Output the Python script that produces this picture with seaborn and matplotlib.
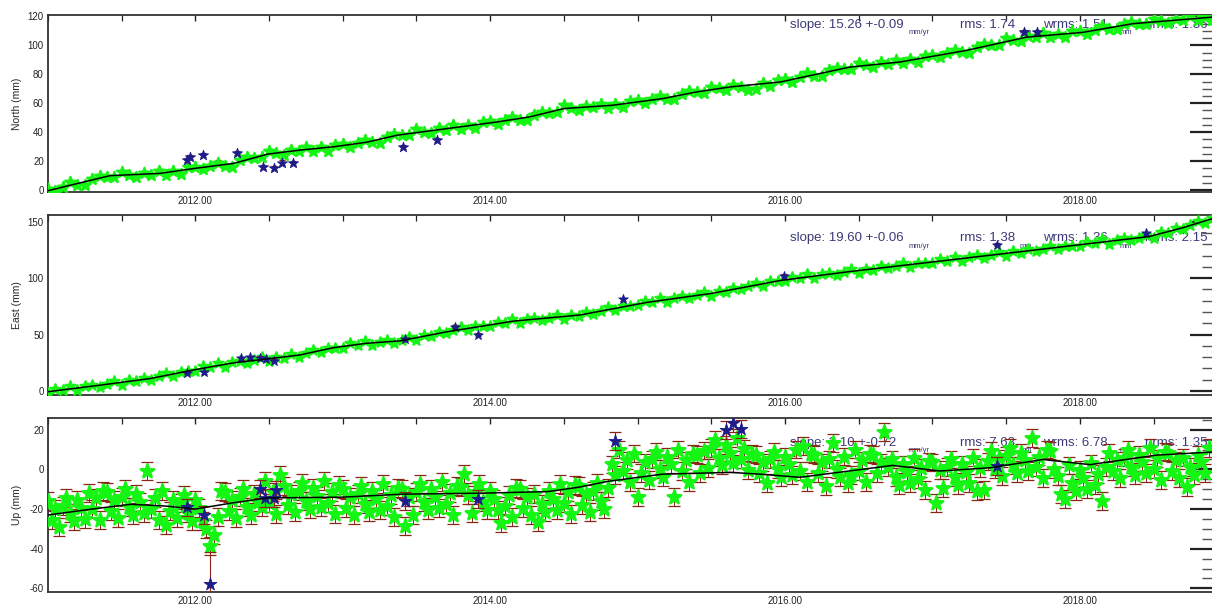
import matplotlib
matplotlib.use('Agg')
import matplotlib.pyplot as plt
import seaborn as sns
from matplotlib.ticker import MultipleLocator, FormatStrFormatter

# epochs (decimal year) of the north / east solutions
epochs = [
    2011.00, 2011.05, 2011.10, 2011.15, 2011.20, 2011.25, 2011.30, 2011.35, 2011.40, 2011.45,
    2011.50, 2011.55, 2011.60, 2011.65, 2011.70, 2011.75, 2011.80, 2011.85, 2011.90, 2011.95,
    2012.00, 2012.05, 2012.10, 2012.15, 2012.20, 2012.25, 2012.30, 2012.35, 2012.40, 2012.45,
    2012.50, 2012.55, 2012.60, 2012.65, 2012.70, 2012.75, 2012.80, 2012.85, 2012.90, 2012.95,
    2013.00, 2013.05, 2013.10, 2013.15, 2013.20, 2013.25, 2013.30, 2013.35, 2013.40, 2013.45,
    2013.50, 2013.55, 2013.60, 2013.65, 2013.70, 2013.75, 2013.80, 2013.85, 2013.90, 2013.95,
    2014.00, 2014.05, 2014.10, 2014.15, 2014.20, 2014.25, 2014.30, 2014.35, 2014.40, 2014.45,
    2014.50, 2014.55, 2014.60, 2014.65, 2014.70, 2014.75, 2014.80, 2014.85, 2014.90, 2014.95,
    2015.00, 2015.05, 2015.10, 2015.15, 2015.20, 2015.25, 2015.30, 2015.35, 2015.40, 2015.45,
    2015.50, 2015.55, 2015.60, 2015.65, 2015.70, 2015.75, 2015.80, 2015.85, 2015.90, 2015.95,
    2016.00, 2016.05, 2016.10, 2016.15, 2016.20, 2016.25, 2016.30, 2016.35, 2016.40, 2016.45,
    2016.50, 2016.55, 2016.60, 2016.65, 2016.70, 2016.75, 2016.80, 2016.85, 2016.90, 2016.95,
    2017.00, 2017.05, 2017.10, 2017.15, 2017.20, 2017.25, 2017.30, 2017.35, 2017.40, 2017.45,
    2017.50, 2017.55, 2017.60, 2017.65, 2017.70, 2017.75, 2017.80, 2017.85, 2017.90, 2017.95,
    2018.00, 2018.05, 2018.10, 2018.15, 2018.20, 2018.25, 2018.30, 2018.35, 2018.40, 2018.45,
    2018.50, 2018.55, 2018.60, 2018.65, 2018.70, 2018.75, 2018.80, 2018.85, 2018.90,
]

north = [
    0.7, -0.8, 2.4, 5.3, 3.7, 3.6, 7.8, 9.8, 9.1, 8.8,
    12.5, 10.6, 9.0, 12.0, 10.6, 13.2, 10.7, 13.4, 11.2, 15.6,
    16.2, 14.2, 16.7, 19.0, 16.8, 16.2, 20.4, 22.5, 22.0, 22.5,
    27.1, 25.7, 24.4, 27.8, 26.9, 29.7, 27.1, 29.6, 27.2, 31.3,
    31.9, 29.9, 32.5, 34.8, 32.9, 32.8, 36.9, 38.8, 38.0, 37.8,
    41.9, 40.4, 39.2, 42.7, 41.8, 44.7, 42.3, 45.0, 42.8, 47.0,
    47.6, 45.6, 48.3, 50.7, 48.7, 48.2, 52.2, 54.1, 53.5, 53.8,
    58.5, 56.7, 55.2, 58.3, 57.1, 59.7, 57.0, 59.5, 57.2, 61.5,
    62.1, 60.1, 62.7, 64.9, 63.0, 62.7, 66.7, 68.4, 67.5, 67.4,
    71.5, 70.2, 69.0, 72.5, 71.4, 69.0, 69.8, 74.1, 71.7, 75.8,
    76.6, 75.0, 78.0, 80.7, 79.0, 78.7, 82.8, 84.6, 83.8, 83.9,
    87.8, 86.2, 84.8, 88.2, 87.1, 89.9, 87.5, 90.3, 88.3, 92.8,
    93.6, 91.8, 94.6, 97.1, 95.2, 94.9, 99.0, 100.8, 100.0, 100.2,
    104.8, 103.8, 103.0, 106.8, 105.6, 108.4, 105.7, 108.1, 105.7, 109.7,
    110.0, 108.0, 110.8, 113.3, 111.4, 111.0, 114.9, 116.4, 115.0, 114.6,
    118.4, 116.7, 115.3, 118.5, 117.4, 120.1, 117.4, 119.8, 117.3,
]

east = [
    -1.6, 2.0, 0.6, 4.3, 0.7, 4.1, 5.7, 3.5, 6.2, 8.9,
    5.3, 9.6, 8.6, 11.9, 10.1, 12.9, 16.0, 13.3, 17.2, 17.5,
    18.0, 22.0, 20.9, 24.9, 21.6, 25.4, 27.0, 24.8, 27.3, 29.9,
    26.3, 30.5, 29.4, 32.6, 30.6, 33.5, 36.7, 34.2, 38.2, 38.5,
    38.5, 42.2, 40.9, 44.5, 40.7, 43.8, 45.0, 42.5, 45.0, 48.0,
    44.9, 49.5, 49.0, 52.7, 51.1, 53.8, 56.7, 53.7, 57.4, 57.4,
    57.7, 61.5, 60.3, 64.2, 60.5, 63.7, 65.1, 62.7, 65.1, 67.5,
    63.7, 67.7, 66.5, 70.0, 68.4, 71.3, 74.3, 71.5, 75.4, 75.6,
    76.0, 80.1, 78.8, 82.5, 79.0, 82.6, 84.3, 82.2, 84.9, 87.6,
    84.1, 88.7, 88.1, 91.7, 90.1, 93.0, 96.0, 93.2, 97.1, 97.3,
    97.5, 101.1, 99.8, 103.4, 99.9, 103.3, 104.9, 102.8, 105.4, 108.1,
    104.4, 108.6, 107.5, 110.7, 108.7, 111.0, 113.6, 110.3, 113.7, 113.4,
    113.4, 116.9, 115.5, 119.1, 115.4, 118.8, 120.4, 118.1, 120.7, 123.2,
    119.6, 123.8, 122.7, 125.9, 123.9, 126.2, 128.8, 125.6, 128.9, 128.7,
    128.7, 132.2, 130.8, 134.4, 130.7, 134.1, 135.7, 133.5, 136.0, 138.6,
    135.4, 140.6, 140.5, 144.6, 143.6, 147.2, 151.0, 149.0, 153.6,
]

# vertical is shown at a denser sampling
up_epochs = [
    2011.000, 2011.025, 2011.050, 2011.075, 2011.100, 2011.125, 2011.150, 2011.175,
    2011.200, 2011.225, 2011.250, 2011.275, 2011.300, 2011.325, 2011.350, 2011.375,
    2011.400, 2011.425, 2011.450, 2011.475, 2011.500, 2011.525, 2011.550, 2011.575,
    2011.600, 2011.625, 2011.650, 2011.675, 2011.700, 2011.725, 2011.750, 2011.775,
    2011.800, 2011.825, 2011.850, 2011.875, 2011.900, 2011.925, 2011.950, 2011.975,
    2012.000, 2012.025, 2012.050, 2012.075, 2012.100, 2012.125, 2012.150, 2012.175,
    2012.200, 2012.225, 2012.250, 2012.275, 2012.300, 2012.325, 2012.350, 2012.375,
    2012.400, 2012.425, 2012.450, 2012.475, 2012.500, 2012.525, 2012.550, 2012.575,
    2012.600, 2012.625, 2012.650, 2012.675, 2012.700, 2012.725, 2012.750, 2012.775,
    2012.800, 2012.825, 2012.850, 2012.875, 2012.900, 2012.925, 2012.950, 2012.975,
    2013.000, 2013.025, 2013.050, 2013.075, 2013.100, 2013.125, 2013.150, 2013.175,
    2013.200, 2013.225, 2013.250, 2013.275, 2013.300, 2013.325, 2013.350, 2013.375,
    2013.400, 2013.425, 2013.450, 2013.475, 2013.500, 2013.525, 2013.550, 2013.575,
    2013.600, 2013.625, 2013.650, 2013.675, 2013.700, 2013.725, 2013.750, 2013.775,
    2013.800, 2013.825, 2013.850, 2013.875, 2013.900, 2013.925, 2013.950, 2013.975,
    2014.000, 2014.025, 2014.050, 2014.075, 2014.100, 2014.125, 2014.150, 2014.175,
    2014.200, 2014.225, 2014.250, 2014.275, 2014.300, 2014.325, 2014.350, 2014.375,
    2014.400, 2014.425, 2014.450, 2014.475, 2014.500, 2014.525, 2014.550, 2014.575,
    2014.600, 2014.625, 2014.650, 2014.675, 2014.700, 2014.725, 2014.750, 2014.775,
    2014.800, 2014.825, 2014.850, 2014.875, 2014.900, 2014.925, 2014.950, 2014.975,
    2015.000, 2015.025, 2015.050, 2015.075, 2015.100, 2015.125, 2015.150, 2015.175,
    2015.200, 2015.225, 2015.250, 2015.275, 2015.300, 2015.325, 2015.350, 2015.375,
    2015.400, 2015.425, 2015.450, 2015.475, 2015.500, 2015.525, 2015.550, 2015.575,
    2015.600, 2015.625, 2015.650, 2015.675, 2015.700, 2015.725, 2015.750, 2015.775,
    2015.800, 2015.825, 2015.850, 2015.875, 2015.900, 2015.925, 2015.950, 2015.975,
    2016.000, 2016.025, 2016.050, 2016.075, 2016.100, 2016.125, 2016.150, 2016.175,
    2016.200, 2016.225, 2016.250, 2016.275, 2016.300, 2016.325, 2016.350, 2016.375,
    2016.400, 2016.425, 2016.450, 2016.475, 2016.500, 2016.525, 2016.550, 2016.575,
    2016.600, 2016.625, 2016.650, 2016.675, 2016.700, 2016.725, 2016.750, 2016.775,
    2016.800, 2016.825, 2016.850, 2016.875, 2016.900, 2016.925, 2016.950, 2016.975,
    2017.000, 2017.025, 2017.050, 2017.075, 2017.100, 2017.125, 2017.150, 2017.175,
    2017.200, 2017.225, 2017.250, 2017.275, 2017.300, 2017.325, 2017.350, 2017.375,
    2017.400, 2017.425, 2017.450, 2017.475, 2017.500, 2017.525, 2017.550, 2017.575,
    2017.600, 2017.625, 2017.650, 2017.675, 2017.700, 2017.725, 2017.750, 2017.775,
    2017.800, 2017.825, 2017.850, 2017.875, 2017.900, 2017.925, 2017.950, 2017.975,
    2018.000, 2018.025, 2018.050, 2018.075, 2018.100, 2018.125, 2018.150, 2018.175,
    2018.200, 2018.225, 2018.250, 2018.275, 2018.300, 2018.325, 2018.350, 2018.375,
    2018.400, 2018.425, 2018.450, 2018.475, 2018.500, 2018.525, 2018.550, 2018.575,
    2018.600, 2018.625, 2018.650, 2018.675, 2018.700, 2018.725, 2018.750, 2018.775,
    2018.800, 2018.825, 2018.850, 2018.875,
]

up = [
    -16.0, -25.5, -20.0, -29.0, -18.5, -14.5, -22.0, -26.0,
    -15.5, -19.5, -25.0, -12.0, -20.0, -14.5, -25.5, -11.0,
    -11.5, -21.0, -15.5, -24.5, -14.0, -10.0, -19.0, -23.0,
    -12.5, -16.5, -22.0, -1.0, -20.0, -14.5, -25.5, -11.0,
    -28.0, -21.0, -15.5, -24.5, -17.0, -13.0, -22.0, -26.0,
    -15.5, -19.5, -26.0, -30.0, -38.5, -33.0, -24.0, -11.0,
    -11.5, -21.0, -15.5, -24.5, -14.0, -10.0, -19.0, -23.0,
    -12.5, -16.5, -19.0, -6.0, -17.0, -11.5, -22.5, -3.0,
    -8.5, -18.0, -12.5, -21.5, -11.0, -7.0, -16.0, -20.0,
    -9.5, -13.5, -19.0, -6.0, -17.0, -11.5, -22.5, -8.0,
    -10.0, -19.5, -14.0, -23.0, -12.5, -8.5, -17.5, -21.5,
    -11.0, -15.0, -20.5, -7.5, -18.5, -13.0, -24.0, -9.5,
    -10.0, -28.5, -14.0, -23.0, -11.5, -7.5, -16.5, -20.5,
    -10.0, -14.0, -19.5, -6.5, -17.5, -12.0, -23.0, -8.5,
    -9.0, -2.5, -13.0, -22.0, -11.5, -7.5, -16.5, -20.5,
    -11.0, -15.0, -20.5, -27.0, -18.5, -13.0, -24.0, -9.5,
    -10.0, -19.5, -14.0, -23.0, -12.5, -26.5, -17.5, -21.5,
    -11.0, -15.0, -20.5, -7.5, -17.0, -11.5, -22.5, -8.0,
    -8.5, -18.0, -12.5, -21.5, -11.0, -7.0, -16.0, -20.0,
    -9.5, 2.5, -3.0, 10.0, -1.0, 4.5, -6.5, 8.0,
    -14.0, -2.0, 3.5, -5.5, 5.0, 9.0, 0.0, -4.0,
    6.5, 2.5, -14.0, 10.0, -1.0, 4.5, -6.5, 8.0,
    7.5, -2.0, 9.5, 0.5, 11.0, 15.0, 6.0, 2.0,
    12.5, 8.5, 3.0, 16.0, 5.0, 10.5, -0.5, 8.0,
    7.5, -2.0, 3.5, -7.0, 5.0, 9.0, 0.0, -4.0,
    6.5, 2.5, -3.0, 10.0, -1.0, 12.0, -6.5, 8.0,
    7.5, -2.0, 3.5, -8.5, 5.0, 13.5, 0.0, -4.0,
    6.5, -7.0, -3.0, 10.0, -1.0, 4.5, -6.5, 8.0,
    7.5, -2.0, 3.5, 19.0, 1.0, 5.0, -4.0, -8.0,
    2.5, -1.5, -7.0, 6.0, -5.0, 0.5, -10.5, 4.0,
    3.5, -17.0, -0.5, -9.5, 1.0, 5.0, -4.0, -8.0,
    2.5, -1.5, -7.0, 6.0, -11.0, 0.5, -10.5, 4.0,
    9.5, 0.0, 5.5, -3.5, 7.0, 11.0, 2.0, -2.0,
    8.5, 4.5, -1.0, 16.0, 1.0, 6.5, -4.5, 10.0,
    9.5, 0.0, -3.5, -12.5, -15.0, 2.0, -7.0, -11.0,
    -0.5, -4.5, -10.0, 3.0, -8.0, -2.5, -16.0, 1.0,
    8.5, -1.0, 4.5, -4.5, 6.0, 10.0, 1.0, -3.0,
    7.5, 3.5, -2.0, 11.0, 0.0, 5.5, -5.5, 9.0,
    8.5, -1.0, 4.5, -4.5, 6.0, -9.0, 1.0, -3.0,
    7.5, 3.5, -2.0, 11.0,
]

# formal errors (mm)
north_sig = 1.4
east_sig = 1.3
up_sig = 4.5

# rejected points (blue)
north_out_t = [2011.94, 2011.96, 2012.05, 2012.28, 2012.46, 2012.53, 2012.59, 2012.66,
               2013.41, 2013.64, 2017.62, 2017.71]
north_out = [20.5, 22.5, 24.0, 25.5, 16.0, 15.2, 19.0, 18.7, 30.0, 34.5, 109.0, 109.5]
east_out_t = [2011.94, 2012.06, 2012.31, 2012.37, 2012.44, 2012.48, 2012.53, 2013.42,
              2013.76, 2013.92, 2014.90, 2015.99, 2017.44, 2018.45]
east_out = [16.3, 16.5, 29.0, 30.0, 29.5, 28.0, 27.0, 45.8, 57.0, 49.7, 81.4, 102.0, 129.5, 140.0]
up_out_t = [2011.94, 2012.06, 2012.10, 2012.44, 2012.47, 2012.53, 2012.55, 2013.42, 2013.92,
            2014.85, 2015.60, 2015.65, 2015.70, 2017.44]
up_out = [-19.2, -23.0, -57.7, -9.8, -14.6, -14.6, -10.5, -16.0, -15.0, 14.4, 20.0, 23.5, 20.5, 1.8]
up_out_sig = [4.5, 4.5, 16.0, 4.5, 4.5, 4.5, 4.5, 4.5, 4.5, 4.5, 4.5, 4.5, 4.5, 4.5]

# fitted model curves
north_fit_t = [2011.00, 2011.20, 2011.42, 2011.76, 2012.00, 2012.26, 2012.49, 2012.71, 2012.94,
               2013.16, 2013.37, 2013.71, 2014.05, 2014.27, 2014.50, 2014.83, 2015.17, 2015.40,
               2015.63, 2015.97, 2016.44, 2016.78, 2017.23, 2017.64, 2018.02, 2018.36, 2018.91]
north_fit = [-0.5, 4.5, 9.9, 11.5, 15.0, 18.4, 24.8, 27.6, 29.9, 33.0, 37.9, 42.5, 47.1, 50.6,
             56.3, 58.6, 63.2, 67.8, 71.3, 74.7, 85.0, 88.5, 96.5, 105.7, 109.0, 115.0, 119.6]
east_fit_t = [2011.00, 2011.36, 2011.69, 2012.00, 2012.26, 2012.49, 2012.71, 2012.94, 2013.16,
              2013.39, 2013.71, 2014.16, 2014.61, 2015.06, 2015.51, 2015.97, 2016.44, 2017.12,
              2017.80, 2018.47, 2018.70, 2018.91]
east_fit = [-0.6, 5.3, 11.0, 19.0, 25.0, 28.5, 32.0, 38.5, 42.3, 44.5, 52.6, 62.0, 67.4, 78.5,
            86.7, 98.0, 105.9, 116.2, 126.6, 136.9, 144.8, 153.2]
up_fit_t = [2011.00, 2011.30, 2011.56, 2011.80, 2012.00, 2012.26, 2012.49, 2013.00, 2013.40,
            2013.93, 2014.39, 2014.60, 2014.80, 2015.17, 2015.63, 2015.85, 2016.10, 2016.73,
            2017.05, 2017.39, 2017.75, 2018.07, 2018.52, 2018.91]
up_fit = [-23.0, -20.0, -17.6, -18.5, -20.0, -16.8, -14.4, -14.0, -12.5, -12.0, -11.2, -9.0,
          -6.0, -2.4, -1.5, -2.5, -4.0, 2.0, -0.8, 0.8, 5.0, 2.4, 7.2, 8.8]

north_stats = ["slope: 15.26 +-0.09", "rms: 1.74", "wrms: 1.51", "nrms: 1.86"]
east_stats = ["slope: 19.60 +-0.06", "rms: 1.38", "wrms: 1.36", "nrms: 2.15"]
up_stats = ["slope: 3.10 +-0.72", "rms: 7.63", "wrms: 6.78", "nrms: 1.35"]
stat_units = ["mm/yr", "mm", "mm", ""]

sns.set_style('white')
plt.rcParams['font.family'] = ['Liberation Sans', 'DejaVu Sans']
plt.rcParams['axes.unicode_minus'] = False

GREEN = '#14f514'
BLUE = '#1c1c8a'
BAR = '#8a2616'
TXT = '#3a3a78'

fig = plt.figure(figsize=(12.12, 6.10), dpi=100)

panels = [
    dict(box=[0.0396, 0.6852, 0.962, 0.2902], t=epochs, v=north, sig=north_sig,
         ot=north_out_t, ov=north_out, osig=[north_sig] * len(north_out),
         ft=north_fit_t, fv=north_fit, label='North (mm)', ylim=(-1.4, 121),
         major=20, minor=5, stats=north_stats, ty=0.944, ms=65, ew=1.7, cap=2.0),
    dict(box=[0.0396, 0.3525, 0.962, 0.2950], t=epochs, v=east, sig=east_sig,
         ot=east_out_t, ov=east_out, osig=[east_sig] * len(east_out),
         ft=east_fit_t, fv=east_fit, label='East (mm)', ylim=(-3.5, 156),
         major=50, minor=10, stats=east_stats, ty=0.872, ms=58, ew=1.6, cap=2.0),
    dict(box=[0.0396, 0.0290, 0.962, 0.2860], t=up_epochs, v=up, sig=up_sig,
         ot=up_out_t, ov=up_out, osig=up_out_sig,
         ft=up_fit_t, fv=up_fit, label='Up (mm)', ylim=(-62, 26),
         major=20, minor=5, stats=up_stats, ty=0.855, ms=105, ew=1.8, cap=4.5),
]

# x positions of the statistics pieces (axes fraction)
stat_x = [0.636, 0.782, 0.853, 0.941]
unit_x = [0.738, 0.833, 0.919, 0.0]

for p in panels:
    ax = fig.add_axes(p['box'])

    ax.errorbar(p['t'], p['v'], yerr=p['sig'], fmt='none', ecolor=BAR,
                elinewidth=0.7, capsize=p['cap'], capthick=0.9, zorder=2)
    # thick green edges make the stars merge into a band, as in the original
    sns.scatterplot(x=p['t'], y=p['v'], ax=ax, marker='*', s=p['ms'],
                    color=GREEN, edgecolor=GREEN, linewidth=p['ew'], zorder=3)
    ax.errorbar(p['ot'], p['ov'], yerr=p['osig'], fmt='none', ecolor=BAR,
                elinewidth=0.8, capsize=p['cap'], capthick=0.9, zorder=3.5)
    sns.scatterplot(x=p['ot'], y=p['ov'], ax=ax, marker='*', s=p['ms'] * 0.9,
                    color=BLUE, edgecolor=BLUE, linewidth=0.6, zorder=4)
    sns.lineplot(x=p['ft'], y=p['fv'], ax=ax, color='black', lw=1.1,
                 estimator=None, sort=False, zorder=5)

    # statistics text sits under the data, like the original
    for i, s in enumerate(p['stats']):
        ax.text(stat_x[i], p['ty'], s, transform=ax.transAxes, fontsize=9.5,
                color=TXT, va='center', ha='left', zorder=1)
        if stat_units[i]:
            ax.text(unit_x[i], p['ty'] - 0.045, stat_units[i], transform=ax.transAxes,
                    fontsize=5.5, color=TXT, va='center', ha='left', zorder=1)

    ax.set_xlim(2011.0, 2018.91)
    ax.set_ylim(*p['ylim'])
    ax.xaxis.set_major_locator(MultipleLocator(2))
    ax.xaxis.set_minor_locator(MultipleLocator(0.5))
    ax.xaxis.set_major_formatter(FormatStrFormatter('%.2f'))
    ax.yaxis.set_major_locator(MultipleLocator(p['major']))
    ax.yaxis.set_minor_locator(MultipleLocator(p['minor']))

    ax.tick_params(axis='both', which='both', direction='in', top=True, right=True,
                   labelsize=7, colors='#222222')
    ax.tick_params(axis='x', which='major', length=4.5, width=1.0, pad=2.5)
    ax.tick_params(axis='x', which='minor', length=4.0, width=0.9)
    ax.tick_params(axis='y', which='major', length=17, width=1.6, pad=3)
    ax.tick_params(axis='y', which='minor', length=8.5, width=1.0, color='#555555')

    for sp in ax.spines.values():
        sp.set_color('#333333')
        sp.set_linewidth(1.3)

    ax.set_xlabel('')
    ax.set_ylabel(p['label'], fontsize=7.5)
    ax.yaxis.set_label_coords(-0.022, 0.5)

fig.savefig('out.png', dpi=100)
